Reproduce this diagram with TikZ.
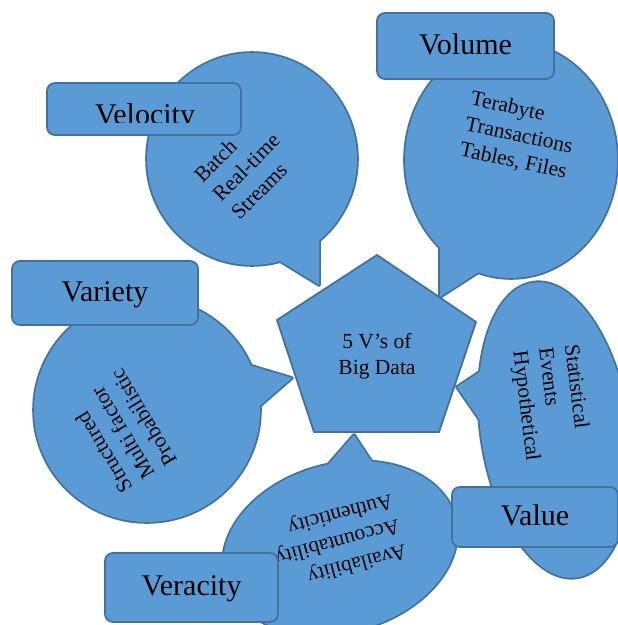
\documentclass[tikz,border=0pt]{standalone}
\usepackage{fontspec}
\setmainfont{Liberation Serif}

\definecolor{boxfill}{HTML}{5B9BD5}
\definecolor{boxline}{HTML}{41719C}

\tikzset{
  rim/.style={draw=boxline, line width=3.6pt, line join=round},
  blob/.style={fill=boxfill},
  tag/.style={draw=boxline, fill=boxfill, line width=1.8pt, rounded corners=8pt,
    font=\fontsize{30}{34}\selectfont, text height=22pt, text depth=6pt},
  note/.style={align=left, inner sep=0pt, font=\fontsize{21.5}{26}\selectfont},
}

% speech bubble: centre, x radius, y radius, tilt, pointer
\newcommand{\speech}[5]{%
  \path[rim, rotate around={#4:(#1)}] (#1) ellipse [x radius=#2, y radius=#3];
  \path[rim] #5;
  \path[blob, rotate around={#4:(#1)}] (#1) ellipse [x radius=#2, y radius=#3];
  \path[blob] #5;
}

\begin{document}
\begin{tikzpicture}[x=1pt, y=-1pt]
\useasboundingbox (0,0) rectangle (618,625);
\clip (0,0) rectangle (618,625);

% bubbles, pointers towards the pentagon
\speech{252,159}{105}{106}{0}{(272,256) -- (319,285) -- (319,230) -- cycle}
\speech{511,160}{106}{118}{0}{(440,236) -- (440,297) -- (488,266) -- cycle}
\speech{147,410}{113}{112}{0}{(235,361) -- (292,378) -- (248,416) -- cycle}
\speech{340,548}{119}{84}{15}{(320,474) -- (354,435) -- (377,470) -- cycle}
\speech{555,430}{149}{74}{-81.5}{(487,367) -- (457,387) -- (491,436) -- cycle}

% the pentagon in the middle
\draw[draw=boxline, fill=boxfill, line width=1.8pt]
  (377,255) -- (476,322) -- (439,432) -- (314,432) -- (277,320) -- cycle;
\node[note, align=center] (hub) at (377,356) {5 V’s of\\Big Data};

\node[note, rotate=45] (velocity note) at (246,167) {Batch\\Real-time\\Streams};
\node[note, rotate=-12] (volume note) at (519,136) {Terabyte\\Transactions\\Tables, Files};
\node[note, rotate=121] (variety note) at (121,431) {Structured\\Multi factor\\Probabilistic};
\node[note, rotate=195] (veracity note) at (337,541) {Availability\\Accountability\\Authenticity};
\node[note, rotate=-83] (value note) at (551,403) {Statistical\\Events\\Hypothetical};

% title boxes
\node[tag, minimum width=194pt, minimum height=52pt] (velocity) at (144,109) {};
\begin{scope}
  \clip (47,83) rectangle (241,122);
  \node[font=\fontsize{30}{34}\selectfont, anchor=base] (velocity text) at (145,124) {Velocity};
\end{scope}

\foreach \name/\x/\y/\w/\h/\word in {volume/465.5/46/177/66/Volume,
    variety/105/293/186/64/Variety, veracity/191.5/587.5/173/69/Veracity,
    value/535/517/166/60/Value}
  \node[tag, minimum width=\w pt, minimum height=\h pt] (\name) at (\x,\y) {\word};

\end{tikzpicture}
\end{document}
